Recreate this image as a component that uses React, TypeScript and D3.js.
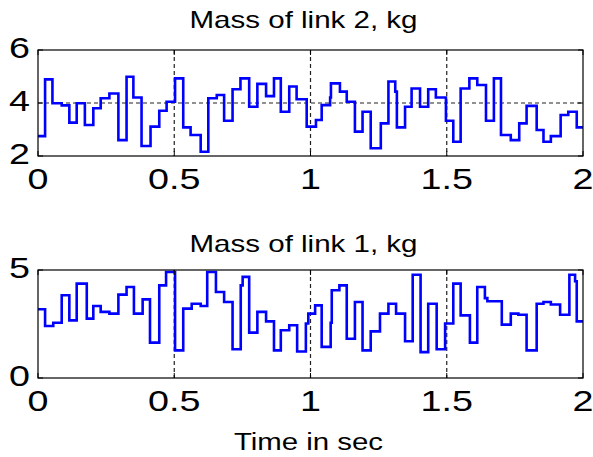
import React from "react";
import * as d3 from "d3";

// Mass of link 2 (top panel): step start times (s) and values (kg)
const t2 = [0, 0.026, 0.053, 0.087, 0.115, 0.142, 0.172, 0.203, 0.23, 0.262, 0.295, 0.325, 0.35, 0.38, 0.413, 0.445, 0.472,
  0.503, 0.533, 0.56, 0.597, 0.625, 0.656, 0.683, 0.714, 0.743, 0.775, 0.805, 0.837, 0.866, 0.891, 0.922, 0.949, 0.986,
  1.02, 1.041, 1.072, 1.075, 1.108, 1.133, 1.163, 1.191, 1.221, 1.258, 1.286, 1.311, 1.317, 1.347, 1.371, 1.402, 1.432, 1.46,
  1.497, 1.524, 1.551, 1.583, 1.612, 1.644, 1.673, 1.699, 1.735, 1.766, 1.793, 1.83, 1.855, 1.882, 1.918, 1.946, 1.977];
const m2 = [2.75, 4.89, 3.99, 3.91, 3.26, 3.99, 3.17, 3.8, 4.18, 4.36, 2.6, 4.99, 4.21, 2.38, 3.11, 3.71, 4.05,
  4.93, 3.08, 2.79, 2.16, 4.18, 4.3, 3.33, 4.52, 4.93, 3.86, 4.72, 4.26, 4.93, 3.67, 4.62, 4.14, 3.11,
  3.36, 3.92, 4.21, 4.74, 4.43, 4.05, 2.92, 3.67, 2.29, 3.23, 4.81, 4.43, 3.08, 3.86, 4.55, 3.86, 4.52, 4.21,
  3.33, 2.54, 4.55, 4.93, 4.68, 3.33, 4.93, 2.79, 2.6, 3.23, 3.89, 2.98, 2.54, 2.75, 3.55, 3.67, 3.08];

// Mass of link 1 (bottom panel)
const t1 = [0, 0.026, 0.056, 0.087, 0.115, 0.142, 0.179, 0.203, 0.23, 0.262, 0.295, 0.325, 0.352, 0.384, 0.411, 0.445, 0.47,
  0.503, 0.533, 0.564, 0.597, 0.621, 0.653, 0.683, 0.714, 0.744, 0.751, 0.775, 0.805, 0.837, 0.866, 0.891, 0.922, 0.951, 0.983, 0.992,
  1.017, 1.041, 1.074, 1.078, 1.106, 1.133, 1.163, 1.191, 1.221, 1.255, 1.286, 1.314, 1.347, 1.375, 1.404, 1.432, 1.463,
  1.494, 1.524, 1.551, 1.585, 1.612, 1.64, 1.649, 1.702, 1.735, 1.763, 1.793, 1.83, 1.855, 1.882, 1.916, 1.95, 1.971, 1.977];
const m1 = [3.18, 2.41, 2.56, 3.83, 2.67, 4.37, 2.75, 3.33, 3.06, 2.98, 3.86, 4.21, 2.98, 3.64, 1.64, 4.29, 4.91,
  1.28, 3.21, 3.44, 3.33, 4.91, 3.98, 3.52, 1.33, 4.29, 4.68, 2.1, 3.06, 2.62, 1.28, 2.21, 2.44, 1.23, 2.52, 2.98,
  3.36, 1.44, 2.56, 4.06, 4.29, 1.82, 3.52, 1.28, 2.16, 2.98, 3.44, 2.98, 1.7, 4.78, 1.2, 3.44, 1.33,
  2.52, 4.37, 2.9, 1.64, 4.21, 3.7, 3.55, 2.47, 2.98, 2.93, 1.28, 3.44, 3.52, 3.4, 2.93, 4.78, 4.48, 2.62];

const xTicks = [0, 0.5, 1, 1.5, 2];
const xTickLabels = ["0", "0.5", "1", "1.5", "2"];
const yTicks2 = [2, 4, 6];
const yTicks1 = [0, 5];
const title2 = "Mass of link 2, kg";
const title1 = "Mass of link 1, kg";
const xLabel = "Time in sec";

const W = 593, H = 457;
const X0 = 38, X1 = 583;
const FONT = "'Liberation Sans', Arial, sans-serif";

function SText({ x, y, anchor = "middle", size, sx = 1.3, children }: any) {
  return (
    <text transform={`translate(${x},${y}) scale(${sx},1)`} textAnchor={anchor} fontSize={size}
      fontFamily={FONT} fill="#000">{children}</text>
  );
}

function Panel({ t, m, yDomain, yTicks, top, bottom, title, titleY, hGrid }: any) {
  const x = d3.scaleLinear().domain([0, 2]).range([X0, X1]);
  const y = d3.scaleLinear().domain(yDomain).range([bottom, top]);
  const pts: [number, number][] = t.map((tt: number, i: number) => [tt, m[i]]);
  pts.push([2, m[m.length - 1]]);
  const line = d3.line<[number, number]>().x(d => x(d[0])).y(d => y(d[1])).curve(d3.curveStepAfter);
  const dash = "4,3";
  return (
    <g>
      <rect x={X0} y={top} width={X1 - X0} height={bottom - top} fill="#fff" />
      {xTicks.slice(1, -1).map(v => (
        <line key={"gx" + v} x1={x(v)} x2={x(v)} y1={top} y2={bottom} stroke="#222" strokeWidth={1.2} strokeDasharray={dash} />
      ))}
      {hGrid.map((v: number) => (
        <line key={"gy" + v} x1={X0} x2={X1} y1={y(v)} y2={y(v)} stroke="#222" strokeWidth={1.2} strokeDasharray={dash} />
      ))}
      <path d={line(pts) || ""} fill="none" stroke="#0000ff" strokeWidth={2.6} strokeLinejoin="miter" />
      <rect x={X0} y={top} width={X1 - X0} height={bottom - top} fill="none" stroke="#000" strokeWidth={1.2} />
      {xTicks.map(v => (
        <g key={"tx" + v}>
          <line x1={x(v)} x2={x(v)} y1={bottom} y2={bottom - 5} stroke="#000" />
          <line x1={x(v)} x2={x(v)} y1={top} y2={top + 5} stroke="#000" />
        </g>
      ))}
      {yTicks.map((v: number) => (
        <g key={"ty" + v}>
          <line x1={X0} x2={X0 + 5} y1={y(v)} y2={y(v)} stroke="#000" />
          <line x1={X1} x2={X1 - 5} y1={y(v)} y2={y(v)} stroke="#000" />
        </g>
      ))}
      {xTicks.map((v, i) => (
        <SText key={"lx" + v} x={x(v)} y={bottom + 33} size={29}>{xTickLabels[i]}</SText>
      ))}
      {yTicks.map((v: number) => (
        <SText key={"ly" + v} x={X0 - 8} y={y(v) + 8} anchor="end" size={29}>{String(v)}</SText>
      ))}
      <SText x={(X0 + X1) / 2 - 7} y={titleY} size={24} sx={1.23}>{title}</SText>
    </g>
  );
}

export default function App() {
  return (
    <svg width={W} height={H} style={{ position: "absolute", left: 0, top: 0, background: "#fff" }}>
      <rect width={W} height={H} fill="#fff" />
      <Panel t={t2} m={m2} yDomain={[2, 6]} yTicks={yTicks2} top={50} bottom={156} title={title2} titleY={28} hGrid={[4]} />
      <Panel t={t1} m={m1} yDomain={[0, 5]} yTicks={yTicks1} top={270} bottom={378} title={title1} titleY={252} hGrid={[]} />
      <SText x={(X0 + X1) / 2 - 2} y={450} size={24.5} sx={1.2}>{xLabel}</SText>
    </svg>
  );
}
